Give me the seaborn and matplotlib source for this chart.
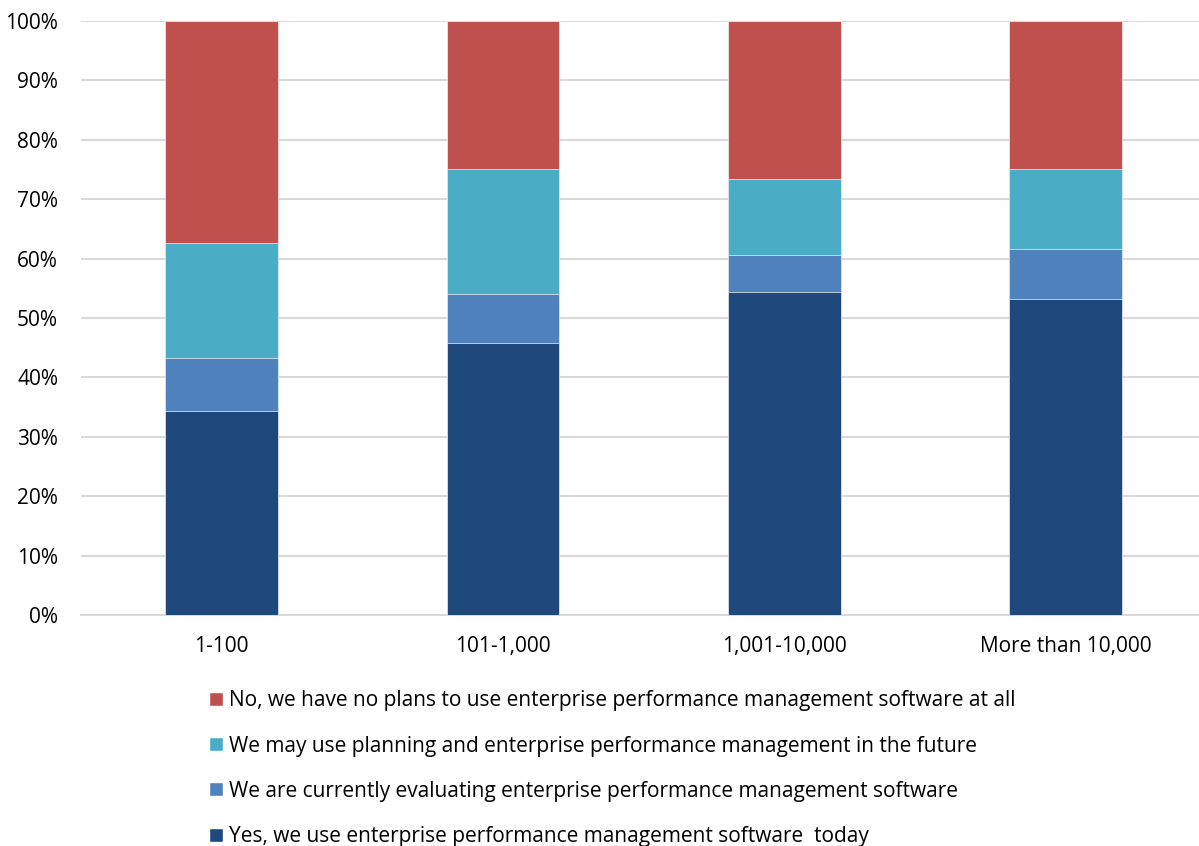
"""
100% stacked bars: EPM software usage by company size
"""

import numpy as np
import pandas as pd
import matplotlib
matplotlib.use("Agg")
import matplotlib.pyplot as plt
from matplotlib.patches import Patch
from matplotlib.ticker import PercentFormatter
import seaborn as sns

# Data (percent of respondents)
sizes = ["1-100", "101-1,000", "1,001-10,000", "More than 10,000"]
yes_today = [34.3, 45.8, 54.4, 53.2]
evaluating = [9.0, 8.2, 6.2, 8.4]
maybe_future = [19.3, 21.1, 12.8, 13.5]
no_plans = [37.4, 24.9, 26.6, 24.9]

series_labels = [
    "Yes, we use enterprise performance management software  today",
    "We are currently evaluating enterprise performance management software",
    "We may use planning and enterprise performance management in the future",
    "No, we have no plans to use enterprise performance management software at all",
]
series_colors = ["#1F497D", "#4F81BD", "#4BACC6", "#C0504D"]

sns.set_theme(style="white")
plt.rcParams["font.family"] = ["Open Sans", "DejaVu Sans"]

df = pd.DataFrame({
    "size": sizes,
    series_labels[0]: yes_today,
    series_labels[1]: evaluating,
    series_labels[2]: maybe_future,
    series_labels[3]: no_plans,
})

fig = plt.figure(figsize=(11.99, 8.46), dpi=100)
ax = fig.add_axes([81 / 1199, 1 - 615 / 846, 1 - 81 / 1199, (615 - 21) / 846])

# draw cumulative totals from the top layer down so each layer shows its share
cum = df[series_labels].cumsum(axis=1)
for label, color in reversed(list(zip(series_labels, series_colors))):
    sns.barplot(x=df["size"], y=cum[label], color=color, width=0.4,
                saturation=1, edgecolor="#F2F2F2", linewidth=0.5, ax=ax, zorder=3)

ax.set_xlim(-0.5, 3.474)
ax.set_ylim(0, 100)
ax.set_yticks(np.arange(0, 101, 10))
ax.yaxis.set_major_formatter(PercentFormatter(decimals=0))
ax.grid(axis="y", color="#D9D9D9", linewidth=1.5, zorder=0)
ax.set_axisbelow(True)
for side in ["top", "right", "left"]:
    ax.spines[side].set_visible(False)
ax.spines["bottom"].set_color("#D9D9D9")
ax.spines["bottom"].set_linewidth(1.5)
ax.set_xlabel("")
ax.set_ylabel("")
ax.tick_params(axis="both", length=0, labelsize=15, colors="#000000")
ax.tick_params(axis="x", pad=15)
ax.tick_params(axis="y", pad=16.5)

handles = [Patch(facecolor=c) for c in reversed(series_colors)]
fig.legend(handles, list(reversed(series_labels)), loc="upper left",
           bbox_to_anchor=(199 / 1199, 1 - 680 / 846), frameon=False,
           fontsize=15, labelcolor="#000000", handlelength=0.65,
           handleheight=0.65, handletextpad=0.3, labelspacing=1.16, borderpad=0)

fig.savefig("out.png", dpi=100)
